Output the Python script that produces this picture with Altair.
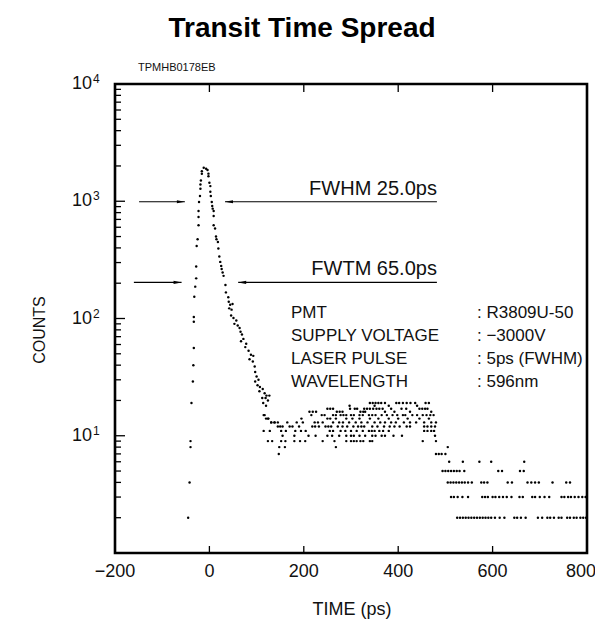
import altair as alt
import pandas as pd

FONT = "Liberation Sans"
W, H = 472, 469

# ---- data (time in ps, counts) ----
RISE_T = [-45, -42, -40, -40, -38, -35, -34, -33, -33, -33, -32, -30, -28, -28, -27, -25, -23, -23, -23, -22, -20, -19, -19, -18, -16, -16]
RISE_V = [2, 4, 9, 8, 19, 29, 40, 56, 94, 103, 153, 187, 220, 278, 416, 474, 624, 734, 826, 985, 1107, 1279, 1392, 1506, 1716, 1806]

PEAK_T = [-12, -7, -4, -2, -2, 0, 2, 2, 3, 5, 6, 7, 9, 9, 9, 12, 14, 15, 18, 19, 21, 23, 25, 26, 28, 30]
PEAK_V = [1930, 1890, 1850, 1720, 1637, 1438, 1346, 1207, 1108, 985, 911, 865, 826, 748, 624, 585, 500, 474, 450, 395, 338, 304, 281, 264, 247, 231]

TAIL_T = [34, 35, 40, 41, 44, 49, 42, 47, 46, 51, 57, 53, 60, 64, 66, 69, 72, 67, 78, 76, 83, 88, 93, 85, 92, 96, 97, 100, 104, 97, 102, 107, 113, 106, 117, 121, 127, 112, 119, 124, 114, 120, 117, 124, 131, 138, 145]
TAIL_V = [193, 167, 152, 139, 131, 133, 122, 119, 106, 101, 96, 90, 87, 83, 77, 73, 67, 64, 61, 57, 53, 49, 48, 45, 43, 39, 35, 32, 30, 29, 27, 26, 25, 24, 23, 22, 22, 21, 21, 20, 19, 18, 15, 14, 13, 13, 12]

# plateau and far tail: times of dots at each integer count level
ROWS = {
    19: [340, 346, 352, 358, 364, 372, 396, 402, 410, 418, 426, 436, 458, 465],
    18: [297, 350, 380, 440],
    17: [250, 256, 262, 298, 308, 313, 328, 334, 340, 347, 354, 360, 367, 385, 407, 417, 445, 451, 457, 462],
    16: [212, 219, 226, 270, 276, 282, 320, 326, 330, 372, 392, 425, 470],
    15: [115, 216, 238, 244, 262, 268, 278, 284, 290, 300, 306, 318, 325, 338, 345, 352, 365, 376, 388, 398, 410, 415, 430, 440, 452, 460, 468, 475],
    14: [120, 125, 195, 250, 256, 268, 290, 303, 318, 340, 358, 380, 400, 420, 445, 465],
    13: [131, 138, 145, 165, 185, 198, 223, 230, 240, 262, 275, 283, 296, 310, 322, 335, 350, 362, 372, 385, 395, 412, 425, 438, 455, 470, 480],
    12: [150, 155, 170, 176, 190, 218, 224, 232, 246, 252, 258, 272, 282, 292, 305, 315, 322, 328, 345, 356, 370, 382, 392, 403, 418, 425, 455, 462, 470, 478],
    11: [115, 128, 152, 162, 182, 194, 204, 255, 262, 278, 288, 300, 312, 325, 338, 344, 350, 360, 368, 380, 455, 462, 470, 476],
    10: [155, 180, 210, 225, 250, 260, 275, 290, 300, 306, 318, 330, 345, 352, 365, 372, 390, 408, 478],
    9: [124, 133, 152, 161, 180, 192, 203, 240, 265, 290, 300, 306, 312, 320, 326, 340, 345, 452, 480],
    8: [148, 160, 268, 505],
    7: [147, 480, 486, 492, 500],
    6: [508, 537, 572, 597, 667],
    5: [494, 500, 506, 512, 518, 524, 530, 540, 612, 620, 658, 666],
    4: [505, 511, 517, 523, 529, 535, 541, 548, 556, 576, 582, 589, 632, 641, 674, 682, 690, 698, 727, 756, 764],
    3: [512, 518, 526, 536, 548, 578, 584, 590, 600, 606, 614, 622, 630, 640, 657, 664, 684, 690, 700, 710, 720, 746, 752, 760, 766, 774, 782, 790, 797],
    2: [525, 531, 537, 543, 549, 555, 561, 567, 573, 579, 585, 591, 597, 605, 615, 625, 646, 652, 660, 670, 696, 705, 716, 722, 730, 740, 746, 758, 764, 772, 778, 786, 792, 798],
}

X_TICKS = [-200, 0, 200, 400, 600]
X_TICK_TEXT = ["\u2212200", "0", "200", "400", "600"]
X_LAST_TICK = [800]
X_LAST_TEXT = ["800"]
X_INNER_TICKS = [0, 200, 400, 600]
Y_LABELS = [10, 100, 1000, 10000]
Y_EXPONENTS = ["1", "2", "3", "4"]
Y_MAJOR = [10, 100, 1000]
Y_MINOR = [m * d for d in [1, 10, 100, 1000] for m in range(2, 10)]

FWHM_LEVEL = 990
FWTM_LEVEL = 203
ARROW_SEGS = pd.DataFrame({
    "t1": [-149, 33, -160, 61],
    "t2": [-52, 482, -59, 482],
    "v": [FWHM_LEVEL, FWHM_LEVEL, FWTM_LEVEL, FWTM_LEVEL],
})
HEADS_R = pd.DataFrame({"t": [-52, -59], "v": [FWHM_LEVEL, FWTM_LEVEL]})
HEADS_L = pd.DataFrame({"t": [33, 61], "v": [FWHM_LEVEL, FWTM_LEVEL]})
WIDTH_TEXT = pd.DataFrame({"t": [482, 482], "v": [FWHM_LEVEL, FWTM_LEVEL],
                           "txt": ["FWHM 25.0ps", "FWTM 65.0ps"]})

INFO_KEYS = ["PMT", "SUPPLY VOLTAGE", "LASER PULSE", "WAVELENGTH"]
INFO_VALS = [": R3809U-50", ": \u22123000V", ": 5ps (FWHM)", ": 596nm"]
INFO_ROW_Y = [229, 252, 275, 298]   # pixel rows inside the plot

# ---- build tables ----
all_t, all_v = [], []
all_t += RISE_T + PEAK_T + TAIL_T
all_v += RISE_V + PEAK_V + TAIL_V
for lvl, times in ROWS.items():
    all_t += times
    all_v += [lvl] * len(times)
pts = pd.DataFrame({"t": all_t, "v": all_v})

xs = alt.Scale(domain=[-200, 800], nice=False, zero=False)
ys = alt.Scale(type="log", domain=[1, 10000], nice=False)

X = lambda f: alt.X(f, scale=xs, axis=None)
Y = lambda f: alt.Y(f, scale=ys, axis=None)

dots = alt.Chart(pts).mark_circle(size=6, color="black", opacity=1).encode(x=X("t:Q"), y=Y("v:Q"))

# tick labels drawn as text at the scale positions
xlab = alt.Chart(pd.DataFrame({"t": X_TICKS, "lab": X_TICK_TEXT})).mark_text(
    font=FONT, fontSize=18, align="center", baseline="middle", color="#111").encode(
    x=X("t:Q"), y=alt.value(H + 19), text="lab:N")
xlab_last = alt.Chart(pd.DataFrame({"t": X_LAST_TICK, "lab": X_LAST_TEXT})).mark_text(
    font=FONT, fontSize=18, align="center", baseline="middle", dx=-6, color="#111").encode(
    x=X("t:Q"), y=alt.value(H + 19), text="lab:N")
ylab_df = pd.DataFrame({"v": Y_LABELS, "e": Y_EXPONENTS})
ylab = alt.Chart(ylab_df).mark_text(text="10", font=FONT, fontSize=18, align="right",
                                    baseline="middle", color="#111").encode(
    y=Y("v:Q"), x=alt.value(-23))
yexp = alt.Chart(ylab_df).mark_text(font=FONT, fontSize=12, align="left", baseline="middle",
                                    dy=-5, color="#111").encode(
    y=Y("v:Q"), x=alt.value(-22), text="e:N")

ymaj = alt.Chart(pd.DataFrame({"v": Y_MAJOR})).mark_rule(color="black", strokeWidth=1.3).encode(
    y=Y("v:Q"), x=alt.value(0), x2=alt.value(10))
ymin = alt.Chart(pd.DataFrame({"v": Y_MINOR})).mark_rule(color="black", strokeWidth=1.3).encode(
    y=Y("v:Q"), x=alt.value(0), x2=alt.value(6))
xbot = alt.Chart(pd.DataFrame({"t": X_INNER_TICKS})).mark_rule(color="black", strokeWidth=1.3).encode(
    x=X("t:Q"), y=alt.value(H), y2=alt.value(H - 7))
xtop = alt.Chart(pd.DataFrame({"t": X_INNER_TICKS})).mark_rule(color="black", strokeWidth=1.3).encode(
    x=X("t:Q"), y=alt.value(0), y2=alt.value(8))

segs = alt.Chart(ARROW_SEGS).mark_rule(color="black", strokeWidth=1.2).encode(
    x=X("t1:Q"), x2="t2:Q", y=Y("v:Q"))
head_r = alt.Chart(HEADS_R).mark_point(shape="M-1,-0.4L1,0L-1,0.4Z", size=64, filled=True,
                                       color="black", opacity=1, xOffset=-4).encode(x=X("t:Q"), y=Y("v:Q"))
head_l = alt.Chart(HEADS_L).mark_point(shape="M1,-0.4L-1,0L1,0.4Z", size=64, filled=True,
                                       color="black", opacity=1, xOffset=4).encode(x=X("t:Q"), y=Y("v:Q"))
wtext = alt.Chart(WIDTH_TEXT).mark_text(font=FONT, fontSize=20, align="right", baseline="bottom",
                                        dy=-3, color="#111").encode(x=X("t:Q"), y=Y("v:Q"), text="txt:N")

single = pd.DataFrame({"a": [0]})
info_layers = []
for k, val, ry in zip(INFO_KEYS, INFO_VALS, INFO_ROW_Y):
    info_layers.append(alt.Chart(single).mark_text(text=k, font=FONT, fontSize=17, align="left",
                                                   baseline="middle", color="#111").encode(
        x=alt.value(176), y=alt.value(ry)))
    info_layers.append(alt.Chart(single).mark_text(text=val, font=FONT, fontSize=17, align="left",
                                                   baseline="middle", color="#111").encode(
        x=alt.value(362), y=alt.value(ry)))

title = alt.Chart(single).mark_text(text="Transit Time Spread", font=FONT, fontSize=28, fontWeight="bold",
                                    align="center", baseline="alphabetic", color="black").encode(
    x=alt.value(187), y=alt.value(-47))
code = alt.Chart(single).mark_text(text="TPMHB0178EB", font=FONT, fontSize=11, align="left",
                                   baseline="middle", color="#111").encode(
    x=alt.value(23), y=alt.value(-16))
ytitle = alt.Chart(single).mark_text(text="COUNTS", font=FONT, fontSize=16, align="center",
                                     baseline="middle", angle=270, color="#111").encode(
    x=alt.value(-75), y=alt.value(246))
xtitle = alt.Chart(single).mark_text(text="TIME (ps)", font=FONT, fontSize=18, align="center",
                                     baseline="middle", color="#111").encode(
    x=alt.value(237), y=alt.value(526))

chart = alt.layer(
    dots, xlab, xlab_last, ylab, yexp, ymaj, ymin, xbot, xtop, segs, head_r, head_l, wtext, *info_layers,
    title, code, ytitle, xtitle,
).properties(
    width=W, height=H,
    autosize=alt.AutoSizeParams(type="none"),
    padding={"left": 107, "top": 76, "right": 8, "bottom": 70},
    background="white",
).configure_view(stroke="black", strokeWidth=2.6)

chart.save("out.html", embed_options={"renderer": "svg", "actions": False})
